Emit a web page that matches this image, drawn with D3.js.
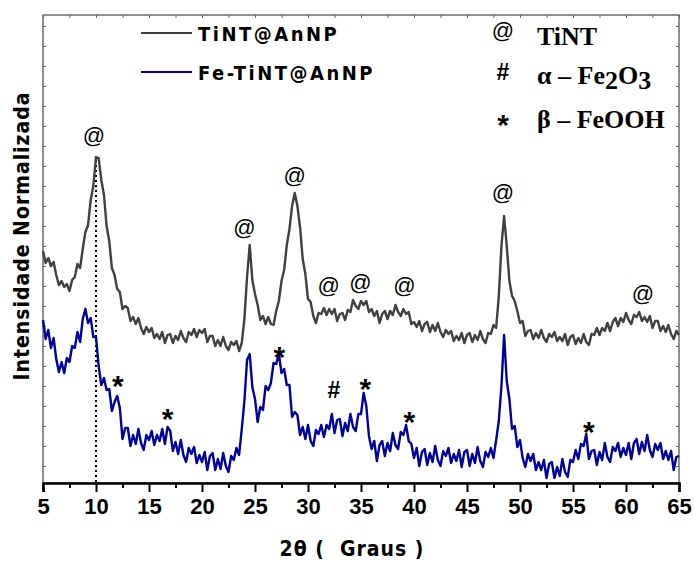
<!DOCTYPE html>
<html lang="pt">
<head>
<meta charset="UTF-8">
<title>DRX TiNT@AnNP</title>
<script src="https://d3js.org/d3.v7.min.js"></script>
<style>
  body { margin: 0; background: #fff; }
  svg { display: block; }
  .tick-lbl { font-family: "Liberation Sans", Arial, sans-serif; font-weight: bold; font-size: 22px; }
  .narrow { font-family: "Liberation Sans Narrow", "DejaVu Sans Condensed", sans-serif; font-weight: bold; }
  .serif { font-family: "Liberation Serif", "Times New Roman", serif; font-weight: bold; }
  .mark { font-family: "Liberation Sans", Arial, sans-serif; }
</style>
</head>
<body>
<div id="chart"></div>
<script>
// 2theta grid of the scans (degrees)
const angleStart = 5
const angleStep = 0.25

// normalized intensity (a.u., offset traces), one value per grid step
const tintAnnp = [
  235,223,228,220,224,211,201,205,199,202,195,206,209,222,218,237,
  254,261,286,300,329,328,306,291,260,245,218,211,197,194,177,180,
  178,165,169,162,168,158,152,159,154,158,148,152,147,154,143,151,
  152,143,150,146,155,148,144,154,151,157,149,156,153,157,144,150,
  150,140,146,140,149,140,136,144,141,145,135,143,167,209,241,206,
  192,181,166,170,162,169,162,161,175,185,205,216,241,257,280,293,
  280,259,227,212,187,184,170,163,173,172,178,171,177,172,177,165,
  172,173,166,176,174,186,180,177,185,181,185,174,177,170,175,163,
  172,175,167,175,171,181,174,170,177,172,174,162,164,159,165,155,
  162,164,154,161,155,163,154,149,156,152,155,145,150,146,153,143,
  151,153,144,151,146,155,147,143,153,152,161,158,190,240,270,240,
  205,190,185,175,163,165,150,155,156,147,153,148,156,148,144,152,
  149,154,145,149,145,152,141,149,151,142,148,143,152,144,141,152,
  151,158,151,158,155,163,155,164,168,160,168,164,173,166,162,171,
  169,174,165,169,164,170,158,165,165,155,160,154,161,152,147,155,
  151
]

const feTintAnnp = [
  166,147,156,138,148,127,114,124,113,128,124,140,138,154,144,167,
  177,163,168,149,149,120,101,108,96,97,75,84,90,78,47,58,
  58,40,51,42,57,43,36,51,46,55,41,51,45,57,42,59,
  55,35,44,32,46,31,24,38,32,39,23,31,24,34,16,30,
  33,16,27,17,33,20,14,30,26,38,31,57,85,126,132,99,
  87,64,79,76,100,96,103,123,122,132,113,117,101,101,69,74,
  71,51,59,47,61,45,40,56,52,61,49,61,57,72,53,66,
  67,50,63,55,72,59,55,72,72,93,80,50,37,45,25,41,
  45,30,43,35,53,41,37,54,51,61,45,42,28,38,20,34,
  37,21,33,24,40,26,20,35,30,38,23,32,25,36,19,34,
  36,20,32,23,39,25,19,34,29,38,28,46,65,100,151,105,
  87,57,60,39,46,28,19,32,25,32,16,24,16,26,8,22,
  24,8,19,10,27,14,9,26,24,36,27,42,40,52,27,35,
  36,21,34,26,43,29,24,39,35,43,29,38,31,43,27,43,
  47,32,44,35,51,36,29,42,36,43,27,35,26,35,16,29,
  30
]

const xTicks = [5, 10, 15, 20, 25, 30, 35, 40, 45, 50, 55, 60, 65]
const xMinorTicks = [7.5, 12.5, 17.5, 22.5, 27.5, 32.5, 37.5, 42.5, 47.5, 52.5, 57.5, 62.5]

// phase labels over the peaks: [2theta, intensity, symbol]
const peakLabels = [
  [9.8, 351, '@'], [24.0, 259, '@'], [28.75, 311, '@'], [31.95, 201, '@'],
  [34.95, 204, '@'], [39.1, 201, '@'], [48.4, 294, '@'], [61.6, 193, '@'],
  [12.05, 109, '*'], [16.75, 76, '*'], [27.3, 138, '*'], [35.4, 106, '*'],
  [39.55, 73, '*'], [56.5, 63, '*'], [32.45, 96, '#']
]
const refAngle = 10
const refTop = 326

const seriesNames = ['TiNT@AnNP', 'Fe-TiNT@AnNP']
const seriesColors = ['#404040', '#00009c']

const width = 694
const height = 562
const margin = { top: 15, right: 15, bottom: 79, left: 43 }

const symSize = { '@': 22, '*': 30, '#': 23 }
const symWeight = { '@': 'normal', '*': 'bold', '#': 'bold' }
const symDy = { '@': '0.35em', '*': '0.62em', '#': '0.36em' }

const svg = d3.select('#chart').append('svg')
  .attr('width', width)
  .attr('height', height)

const x = d3.scaleLinear().domain([5, 65]).range([margin.left, width - margin.right])
const y = d3.scaleLinear().domain([3, 471]).range([height - margin.bottom, margin.top])

const line = d3.line()
  .x((d, i) => x(angleStart + i * angleStep))
  .y(d => y(d))

// frame
svg.append('rect')
  .attr('x', margin.left).attr('y', margin.top)
  .attr('width', width - margin.left - margin.right)
  .attr('height', height - margin.top - margin.bottom)
  .attr('fill', 'none').attr('stroke', '#222').attr('stroke-width', 1)

// inner ticks on top / left / right
svg.append('g')
  .attr('transform', `translate(0,${margin.top})`)
  .call(d3.axisBottom(x).tickValues(xTicks.concat(xMinorTicks)).tickSize(3).tickFormat(''))
  .call(g => g.select('.domain').remove())
  .selectAll('line').attr('stroke', '#666')

svg.append('g')
  .attr('transform', `translate(${margin.left},0)`)
  .call(d3.axisRight(y).ticks(24).tickSize(3).tickFormat(''))
  .call(g => g.select('.domain').remove())
  .selectAll('line').attr('stroke', '#666')

svg.append('g')
  .attr('transform', `translate(${width - margin.right},0)`)
  .call(d3.axisLeft(y).ticks(24).tickSize(3).tickFormat(''))
  .call(g => g.select('.domain').remove())
  .selectAll('line').attr('stroke', '#666')

// bottom axis
const xAxisG = svg.append('g')
  .attr('transform', `translate(0,${height - margin.bottom})`)
  .call(d3.axisBottom(x).tickValues(xTicks).tickSize(9).tickPadding(6).tickFormat(d3.format('d')))
xAxisG.select('.domain').attr('stroke', '#000').attr('stroke-width', 2.5)
xAxisG.selectAll('.tick line').attr('stroke', '#000').attr('stroke-width', 2)
xAxisG.selectAll('.tick text').attr('class', 'tick-lbl').attr('fill', '#000')

svg.append('g')
  .attr('transform', `translate(0,${height - margin.bottom})`)
  .call(d3.axisBottom(x).tickValues(xMinorTicks).tickSize(5).tickFormat(''))
  .call(g => g.select('.domain').remove())
  .selectAll('line').attr('stroke', '#000').attr('stroke-width', 2)

// dotted guide at 10 degrees
svg.append('line')
  .attr('x1', x(refAngle)).attr('x2', x(refAngle))
  .attr('y1', y(refTop)).attr('y2', y(3))
  .attr('stroke', '#000').attr('stroke-width', 2)
  .attr('stroke-dasharray', '2,3')

// traces
;[tintAnnp, feTintAnnp].forEach((s, k) => {
  svg.append('path')
    .datum(s)
    .attr('d', line)
    .attr('fill', 'none')
    .attr('stroke', seriesColors[k])
    .attr('stroke-width', 2.4)
    .attr('stroke-linejoin', 'round')
})

// peak symbols
svg.append('g').selectAll('text')
  .data(peakLabels)
  .join('text')
  .attr('class', 'mark')
  .attr('x', d => x(d[0]))
  .attr('y', d => y(d[1]))
  .attr('dy', d => symDy[d[2]])
  .attr('text-anchor', 'middle')
  .attr('font-size', d => symSize[d[2]])
  .attr('font-weight', d => symWeight[d[2]])
  .text(d => d[2])

// series legend
seriesNames.forEach((name, k) => {
  const ly = 33 + k * 39
  svg.append('line')
    .attr('x1', 141).attr('x2', 192)
    .attr('y1', ly).attr('y2', ly)
    .attr('stroke', seriesColors[k]).attr('stroke-width', 2)
  svg.append('text')
    .attr('class', 'narrow')
    .attr('x', 198).attr('y', ly + 8)
    .attr('font-size', 20)
    .attr('letter-spacing', 2.5)
    .text(name)
})

// phase legend
const phaseLegend = svg.append('g')
const phaseRows = [
  { sym: '@', y: 30 },
  { sym: '#', y: 72 },
  { sym: '*', y: 116 }
]
phaseRows.forEach(r => {
  phaseLegend.append('text')
    .attr('class', 'mark')
    .attr('x', 503).attr('y', r.y)
    .attr('dy', symDy[r.sym])
    .attr('text-anchor', 'middle')
    .attr('font-size', symSize[r.sym])
    .attr('font-weight', symWeight[r.sym])
    .text(r.sym)
})

phaseLegend.append('text').attr('class', 'serif')
  .attr('x', 537).attr('y', 45).attr('font-size', 26)
  .text('TiNT')

const fe2o3 = phaseLegend.append('text').attr('class', 'serif')
  .attr('x', 537).attr('y', 84).attr('font-size', 26)
fe2o3.append('tspan').text('\u03b1 \u2013 Fe')
fe2o3.append('tspan').attr('dy', 5).text('2')
fe2o3.append('tspan').attr('dy', -5).text('O')
fe2o3.append('tspan').attr('dy', 5).text('3')

phaseLegend.append('text').attr('class', 'serif')
  .attr('x', 537).attr('y', 128).attr('font-size', 26)
  .text('\u03b2 \u2013 FeOOH')

// axis titles
svg.append('text')
  .attr('class', 'narrow')
  .attr('x', 352).attr('y', 556)
  .attr('text-anchor', 'middle')
  .attr('font-size', 21)
  .attr('letter-spacing', 1)
  .attr('xml:space', 'preserve')
  .text('2\u03b8 (  Graus )')

svg.append('text')
  .attr('class', 'narrow')
  .attr('transform', 'translate(29,236) rotate(-90)')
  .attr('text-anchor', 'middle')
  .attr('font-size', 21)
  .attr('letter-spacing', 1)
  .text('Intensidade Normalizada')
</script>
</body>
</html>
